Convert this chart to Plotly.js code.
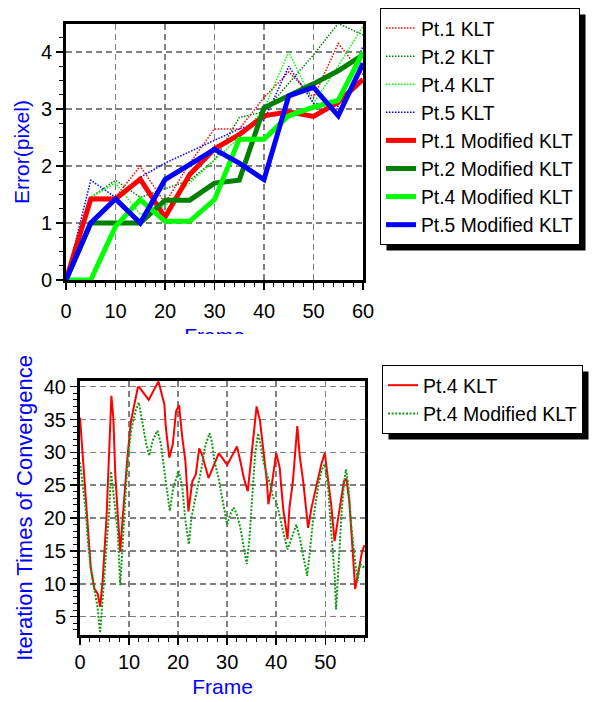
<!DOCTYPE html>
<html><head><meta charset="utf-8">
<script src="https://cdn.plot.ly/plotly-3.0.1.min.js"></script>
<style>
html,body{margin:0;padding:0;background:#fff;}
#wrap1{position:absolute;left:0;top:0;width:594px;height:334px;overflow:hidden;}
#wrap2{position:absolute;left:0;top:334px;width:594px;height:368px;overflow:hidden;}
</style></head><body>
<div id="wrap1"><div id="c1"></div></div>
<div id="wrap2"><div id="c2"></div></div>
<script>
// ---------- Top chart data (error per frame) ----------
const frames = [0, 5, 10, 15, 20, 25, 30, 35, 40, 45, 50, 55, 60];
const pt1KLT = [0, 1.45, 1.45, 2.0, 1.35, 2.05, 2.65, 2.65, 3.2, 3.65, 3.2, 4.15, 3.6];
const pt2KLT = [0, 1.45, 1.75, 1.45, 1.6, 1.75, 2.1, 2.85, 2.95, 3.45, 3.95, 4.5, 4.3];
const pt4KLT = [0, 1.45, 1.7, 1.15, 1.3, 1.7, 2.1, 2.5, 3.0, 4.0, 3.1, 3.75, 4.45];
const pt5KLT = [0, 1.75, 1.45, 1.8, 2.05, 2.25, 2.45, 2.65, 2.8, 3.75, 3.1, 3.05, 4.1];
const pt1Mod = [0, 1.42, 1.42, 1.77, 1.1, 1.85, 2.3, 2.55, 2.88, 2.95, 2.87, 3.12, 3.52];
const pt2Mod = [0, 1.0, 1.0, 1.0, 1.4, 1.4, 1.7, 1.75, 3.02, 3.22, 3.44, 3.67, 3.95];
const pt4Mod = [0, 0, 0.94, 1.41, 1.03, 1.03, 1.41, 2.47, 2.47, 2.88, 3.03, 3.15, 4.0];
const pt5Mod = [0, 1.0, 1.42, 1.0, 1.76, 2.03, 2.29, 2.05, 1.76, 3.23, 3.38, 2.88, 3.8];
const topNames = ['Pt.1 KLT','Pt.2 KLT','Pt.4 KLT','Pt.5 KLT','Pt.1 Modified KLT','Pt.2 Modified KLT','Pt.4 Modified KLT','Pt.5 Modified KLT'];

// ---------- Bottom chart data (iteration times, Pt.4) ----------
const klt4Frame = [0, 0.5, 1, 1.6, 2.2, 2.9, 3.6, 4.1, 4.6, 5.4, 5.8, 6.1, 6.4, 6.8, 7.2, 7.7, 8.2, 8.7, 9.2, 9.7,
  10.4, 11.1, 11.8, 12.1, 14, 16, 17.2, 17.5, 18.2, 18.9, 19.6, 20.2, 20.8, 21.5, 22.1, 22.9, 23.6, 24.3, 24.9, 26.2,
  28.3, 30, 32, 32.7, 33.4, 34.2, 34.9, 35.4, 36, 36.7, 37.4, 38.1, 38.4, 39.1, 40, 40.7, 41.4, 42.3, 42.7, 43.4,
  44.3, 44.8, 45.5, 45.9, 46.5, 47.2, 48.2, 49.2, 49.9, 50.6, 51.2, 51.9, 52.9, 53.8, 54.3, 54.9, 55.4, 56.1, 56.9, 57.5, 58];
const klt4Iter = [35.3, 30, 24.5, 19, 12.4, 9.3, 8.5, 6.5, 10.3, 20, 28.6, 35.4, 38.6, 35.2, 26.6, 20.5, 14.9, 20, 25, 29.6,
  34.8, 37.1, 39.9, 39.9, 38, 40.8, 37.3, 33.8, 29.2, 31.2, 36.3, 37.2, 32.6, 28.6, 21, 25.6, 26.6, 30.6, 29.6, 26.1,
  29.9, 28.1, 30.9, 28.6, 26.1, 24.1, 29.2, 33, 37, 34.8, 29.7, 25.6, 22.1, 25.1, 29.9, 27.7, 21.6, 16.8, 21.6, 25.6,
  34, 29.4, 25.6, 22.6, 18.5, 21.6, 25.1, 28.2, 29.9, 25.6, 22.1, 16.5, 21.1, 25.6, 26, 22.6, 17.1, 9.2, 12.4, 14.9, 15.9];
const mod4Frame = [0, 0.5, 1.2, 1.6, 2.2, 2.9, 3.6, 4.1, 4.5, 5, 5.4, 6, 6.3, 6.8, 7.2, 7.7, 8.2, 8.7, 9.2, 9.7,
  10.4, 11.3, 12, 12.8, 13.5, 14.1, 14.8, 15.8, 16.5, 17.2, 17.9, 18.3, 19, 20.1, 20.8, 21.5, 22.2, 22.7, 23.4, 24.1,
  24.9, 25.5, 26.4, 26.9, 27.4, 28.1, 28.8, 29.5, 30, 30.6, 31.3, 32, 32.7, 33.4, 34, 34.5, 35.1, 35.7, 36.3, 36.7,
  37.4, 38.1, 38.8, 39.4, 40, 40.7, 41.4, 42.3, 43.1, 44.1, 44.8, 45.5, 46.3, 46.8, 47.5, 48.4, 49.2, 49.9, 50.6, 51.2,
  51.9, 52.2, 52.7, 53.3, 53.8, 54.2, 54.7, 55.2, 55.9, 56.6, 57.1, 58];
const mod4Iter = [28.5, 25, 21, 16.5, 12.4, 9.3, 6.3, 2.5, 6.3, 10.9, 15.5, 21.6, 27.1, 24.1, 21.6, 18, 9.8, 16, 22.6, 28.7,
  33.3, 36.3, 37.6, 34.3, 31.3, 29.5, 31.8, 33.3, 31.3, 27.2, 23.6, 21.1, 24.6, 27.2, 25, 19.6, 16, 20, 22.6, 25,
  28.1, 30.9, 32.9, 31.6, 28.6, 26.6, 23.6, 20.5, 19, 20.5, 21.6, 20.5, 18.5, 15.5, 13, 16.5, 22.6, 29.7, 32.9, 31.6,
  28.6, 26.6, 25.1, 23.1, 22.6, 20.5, 18, 15.2, 17, 19, 17, 14.5, 11.2, 14.5, 19.6, 24.1, 27.2, 28.2, 24.6, 18,
  11.4, 6.1, 13, 20.5, 25.1, 27.4, 25.1, 19.6, 14.5, 10.4, 13, 12.4];
const botNames = ['Pt.4 KLT', 'Pt.4 Modified KLT'];

const FONT = 'Liberation Sans, Arial, sans-serif';
const RED = '#ff0000', DKGREEN = '#008000', LTGREEN = '#00ff00', BLUE = '#0000ff';

function axisBase(extra) {
  return Object.assign({
    showline: true, linewidth: 3, linecolor: '#000', mirror: true,
    ticks: 'outside', ticklen: 7, tickwidth: 1.5, tickcolor: '#000',
    showgrid: true, gridcolor: '#808080', gridwidth: 1.5, griddash: '6px,4px',
    zeroline: false, fixedrange: true,
    tickfont: {family: FONT, size: 20, color: '#000'}
  }, extra);
}

// ---------- Top chart ----------
const W = 594, H1 = 360, H2 = 368;
const dotted = (y, name, color) => ({x: frames, y: y, name: name, type: 'scatter', mode: 'lines',
  line: {color: color, width: 1.5, dash: '1.5px,1.5px'}});
const thick = (y, name, color) => ({x: frames, y: y, name: name, type: 'scatter', mode: 'lines',
  line: {color: color, width: 5}});
const topData = [
  dotted(pt1KLT, topNames[0], RED), dotted(pt2KLT, topNames[1], DKGREEN),
  dotted(pt4KLT, topNames[2], LTGREEN), dotted(pt5KLT, topNames[3], BLUE),
  thick(pt1Mod, topNames[4], RED), thick(pt2Mod, topNames[5], DKGREEN),
  thick(pt4Mod, topNames[6], LTGREEN), thick(pt5Mod, topNames[7], BLUE)
];
const topLayout = {
  width: W, height: H1, margin: {l: 0, r: 0, t: 0, b: 0},
  paper_bgcolor: '#fff', plot_bgcolor: '#fff', showlegend: true,
  font: {family: FONT, size: 20, color: '#000'},
  xaxis: axisBase({domain: [66 / W, 363 / W], range: [0, 60], tick0: 0, dtick: 10, ticklabelstandoff: 4,
    minor: {dtick: 2, ticklen: 4, tickcolor: '#000', tickwidth: 1, showgrid: false},
    title: {text: 'Frame', font: {family: FONT, size: 21, color: BLUE}, standoff: 8}}),
  yaxis: axisBase({domain: [1 - 280 / H1, 1 - 24 / H1], range: [0, 4.49], tick0: 0, dtick: 1,
    minor: {dtick: 0.25, ticklen: 4, tickcolor: '#000', tickwidth: 1, showgrid: false},
    title: {text: 'Error(pixel)', font: {family: FONT, size: 21, color: BLUE}, standoff: 6}}),
  legend: {x: 380 / W, y: 1 - 8 / H1, xanchor: 'left', yanchor: 'top', bgcolor: '#fff',
    bordercolor: '#000', borderwidth: 1, font: {family: FONT, size: 19.3, color: '#000'}, tracegroupgap: 0}
};

// ---------- Bottom chart ----------
const botData = [
  {x: klt4Frame, y: klt4Iter, name: botNames[0], type: 'scatter', mode: 'lines', line: {color: RED, width: 2}},
  {x: mod4Frame, y: mod4Iter, name: botNames[1], type: 'scatter', mode: 'lines', line: {color: '#119911', width: 2, dash: '2px,1.6px'}}
];
const OFF = 334;
const botLayout = {
  width: W, height: H2, margin: {l: 0, r: 0, t: 0, b: 0},
  paper_bgcolor: '#fff', plot_bgcolor: '#fff', showlegend: true,
  font: {family: FONT, size: 20, color: '#000'},
  xaxis: axisBase({domain: [80 / W, 365 / W], range: [0, 58.1], tick0: 0, dtick: 10,
    minor: {dtick: 2, ticklen: 4, tickcolor: '#000', tickwidth: 1, showgrid: false},
    title: {text: 'Frame', font: {family: FONT, size: 21, color: BLUE}, standoff: 8}}),
  yaxis: axisBase({domain: [1 - (635 - OFF) / H2, 1 - (381 - OFF) / H2], range: [2.2, 40.87], tick0: 0, dtick: 5,
    minor: {dtick: 1, ticklen: 4, tickcolor: '#000', tickwidth: 1, showgrid: false},
    title: {text: 'Iteration Times of Convergence', font: {family: FONT, size: 22, color: BLUE}, standoff: 6}}),
  legend: {x: 382 / W, y: 1 - (365 - OFF) / H2, xanchor: 'left', yanchor: 'top', bgcolor: '#fff',
    bordercolor: '#000', borderwidth: 1, font: {family: FONT, size: 19.5, color: '#000'}, tracegroupgap: 0}
};

// drop shadow behind each legend box, sized from the legend Plotly actually drew
function addShadow(gd, H) {
  const bg = gd.querySelector('.legend .bg');
  if (!bg) return;
  const b = bg.getBoundingClientRect();
  const g = gd.getBoundingClientRect();
  const s = 6;
  const x0 = b.left - g.left + s, x1 = b.right - g.left + s;
  const y0 = b.top - g.top + s, y1 = b.bottom - g.top + s;
  return Plotly.relayout(gd, {shapes: [{type: 'rect', xref: 'paper', yref: 'paper', layer: 'below',
    x0: x0 / W, x1: x1 / W, y0: 1 - y1 / H, y1: 1 - y0 / H, fillcolor: '#000', line: {width: 0}}]});
}

const cfg = {staticPlot: true, displayModeBar: false};
Plotly.newPlot('c1', topData, topLayout, cfg).then(gd => addShadow(gd, H1));
Plotly.newPlot('c2', botData, botLayout, cfg).then(gd => addShadow(gd, H2));
</script>
</body></html>
